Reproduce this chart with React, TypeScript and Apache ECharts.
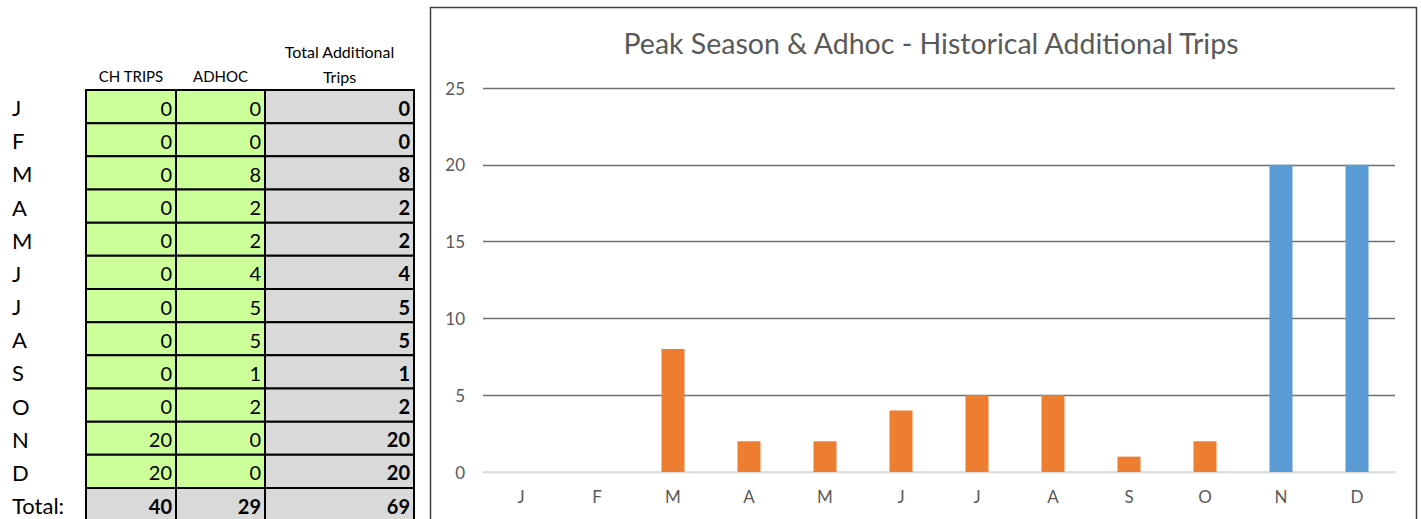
import React, { useEffect, useRef } from "react";
import * as echarts from "echarts";

const months = ["J", "F", "M", "A", "M", "J", "J", "A", "S", "O", "N", "D"];
const chTrips = [0, 0, 0, 0, 0, 0, 0, 0, 0, 0, 20, 20];
const adhoc = [0, 0, 8, 2, 2, 4, 5, 5, 1, 2, 0, 0];
const yTicks = [0, 5, 10, 15, 20, 25];
const headers = ["CH TRIPS", "ADHOC", "Total Additional\nTrips"];
const chartTitle = "Peak Season & Adhoc - Historical Additional Trips";

const FONT = "Lato, 'Noto Sans', sans-serif";

export default function App() {
  const ref = useRef<HTMLDivElement>(null);
  useEffect(() => {
    if (!ref.current) return;
    const chart = echarts.init(ref.current, undefined, { renderer: "svg" });

    const totals = months.map((_, i) => chTrips[i] + adhoc[i]);
    const sumCh = chTrips.reduce((a, b) => a + b, 0);
    const sumAd = adhoc.reduce((a, b) => a + b, 0);
    const sumTot = totals.reduce((a, b) => a + b, 0);

    const colX = [86, 176, 265, 414];
    const top0 = 90;
    const rowH = 33.17;
    const g: any[] = [];

    // header labels
    g.push({ type: "text", x: (colX[0] + colX[1]) / 2, y: 76, style: { text: headers[0], font: `15px ${FONT}`, fill: "#000", align: "center", verticalAlign: "middle" } });
    g.push({ type: "text", x: (colX[1] + colX[2]) / 2, y: 76, style: { text: headers[1], font: `15px ${FONT}`, fill: "#000", align: "center", verticalAlign: "middle" } });
    g.push({ type: "text", x: (colX[2] + colX[3]) / 2, y: 63.5, style: { text: headers[2], font: `16px ${FONT}`, lineHeight: 25, fill: "#000", align: "center", verticalAlign: "middle" } });

    const rows = months.map((m, i) => ({ label: m, vals: [chTrips[i], adhoc[i], totals[i]], total: false }));
    rows.push({ label: "Total:", vals: [sumCh, sumAd, sumTot], total: true });

    rows.forEach((r, i) => {
      const y = top0 + i * rowH;
      g.push({ type: "text", x: 12, y: y + rowH / 2 + 1, style: { text: r.label, font: `22px ${FONT}`, fill: "#000", align: "left", verticalAlign: "middle" } });
      for (let c = 0; c < 3; c++) {
        const fill = r.total || c === 2 ? "#D9D9D9" : "#CCFF99";
        g.push({ type: "rect", shape: { x: colX[c], y, width: colX[c + 1] - colX[c], height: rowH }, style: { fill, stroke: "#000", lineWidth: 2 } });
        g.push({ type: "text", x: colX[c + 1] - 4, y: y + rowH / 2 + 1, z: 10, style: { text: String(r.vals[c]), font: `${r.total || c === 2 ? "bold " : ""}20px ${FONT}`, fill: "#000", align: "right", verticalAlign: "middle" } });
      }
    });

    // chart frame
    g.push({ type: "rect", shape: { x: 430.5, y: 7.5, width: 986, height: 530 }, style: { fill: "none", stroke: "#404040", lineWidth: 1.5 }, z: -1 });

    chart.setOption({
      animation: false,
      textStyle: { fontFamily: FONT },
      title: {
        text: chartTitle,
        left: 926,
        top: 23,
        textAlign: "center",
        textStyle: { fontFamily: FONT, fontSize: 28.5, fontWeight: "normal", color: "#595959" },
      },
      grid: { left: 483, right: 26, top: 88, bottom: 47, containLabel: false },
      xAxis: {
        type: "category",
        data: months,
        axisLine: { lineStyle: { color: "#D9D9D9", width: 1.5 } },
        axisTick: { show: false },
        axisLabel: { color: "#595959", fontSize: 17, margin: 16, fontFamily: FONT },
      },
      yAxis: {
        type: "value",
        min: yTicks[0],
        max: yTicks[yTicks.length - 1],
        interval: 5,
        axisLine: { show: false },
        axisTick: { show: false },
        axisLabel: { color: "#595959", fontSize: 17, margin: 18, fontFamily: FONT },
        splitLine: { lineStyle: { color: ["#D9D9D9", "#6F6F6F", "#6F6F6F", "#6F6F6F", "#6F6F6F", "#6F6F6F"], width: 1.3 } },
      },
      series: [
        { name: "CH TRIPS", type: "bar", stack: "t", data: chTrips, barWidth: 23, itemStyle: { color: "#5B9BD5" } },
        { name: "ADHOC", type: "bar", stack: "t", data: adhoc, barWidth: 23, itemStyle: { color: "#ED7D31" } },
      ],
      graphic: g,
    });
    return () => chart.dispose();
  }, []);
  return <div ref={ref} style={{ position: "fixed", left: 0, top: 0, width: 1421, height: 519, background: "#fff" }} />;
}
